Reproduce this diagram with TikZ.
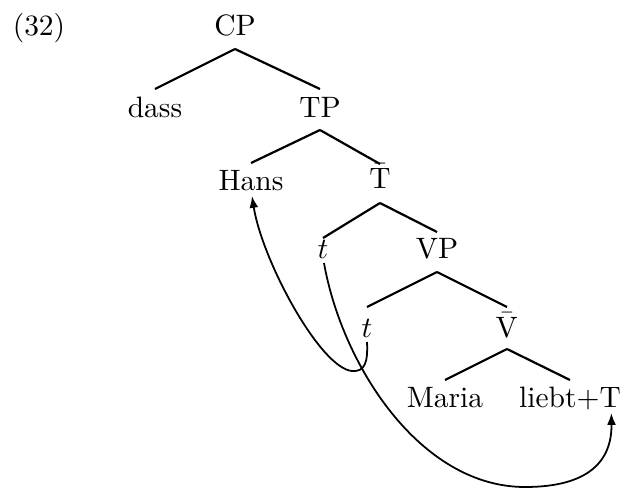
\documentclass[tikz,border=0pt]{standalone}
\usetikzlibrary{arrows.meta}
\begin{document}
\begin{tikzpicture}[x=0.339pt,y=-0.339pt,
  lab/.style={inner sep=1pt,anchor=base},
  br/.style={line width=0.75pt},
  mv/.style={line width=0.6pt,-{Latex[length=4pt,width=3pt]}}]
\useasboundingbox (0,0) rectangle (624,491);
\node[lab] (num) at (39,35) {(32)};
\node[lab] (cp) at (235,35) {CP};
\node[lab] (dass) at (155,117) {dass};
\node[lab] (tp) at (320,117) {TP};
\node[lab] (hans) at (251,190) {Hans};
\node[lab] (tb) at (380,188) {$\bar{\mathrm{T}}$};
\node[lab] (t1) at (323,258) {$t$};
\node[lab] (vp) at (437,258) {VP};
\node[lab] (t2) at (367,337) {$t$};
\node[lab] (vb) at (507,337) {$\bar{\mathrm{V}}$};
\node[lab] (maria) at (445,407) {Maria};
\node[lab] (liebt) at (570,407) {liebt+T};
\draw[br] ([shift={(0,14)}]cp.base) -- ([shift={(0,-28)}]dass.base);
\draw[br] ([shift={(0,14)}]cp.base) -- ([shift={(0,-28)}]tp.base);
\draw[br] ([shift={(0,13)}]tp.base) -- ([shift={(0,-27)}]hans.base);
\draw[br] ([shift={(0,13)}]tp.base) -- ([shift={(0,-24)}]tb.base);
\draw[br] ([shift={(0,15)}]tb.base) -- ([shift={(0,-20)}]t1.base);
\draw[br] ([shift={(0,15)}]tb.base) -- ([shift={(0,-26)}]vp.base);
\draw[br] ([shift={(0,14)}]vp.base) -- ([shift={(0,-30)}]t2.base);
\draw[br] ([shift={(0,14)}]vp.base) -- ([shift={(0,-30)}]vb.base);
\draw[br] ([shift={(0,12)}]vb.base) -- ([shift={(0,-27)}]maria.base);
\draw[br] ([shift={(0,12)}]vb.base) -- ([shift={(0,-27)}]liebt.base);
\draw[mv] ([shift={(0,5)}]t2.base) .. controls (368,362) and (365,372) .. (352,371)
  .. controls (320,368) and (262,260) .. ([shift={(1,6)}]hans.base);
\draw[mv] ([shift={(1,5)}]t1.base) .. controls (342,365) and (420,487) .. (525,487)
  .. controls (590,487) and (612,460) .. ([shift={(-13,6)}]liebt.base east);
\end{tikzpicture}
\end{document}
